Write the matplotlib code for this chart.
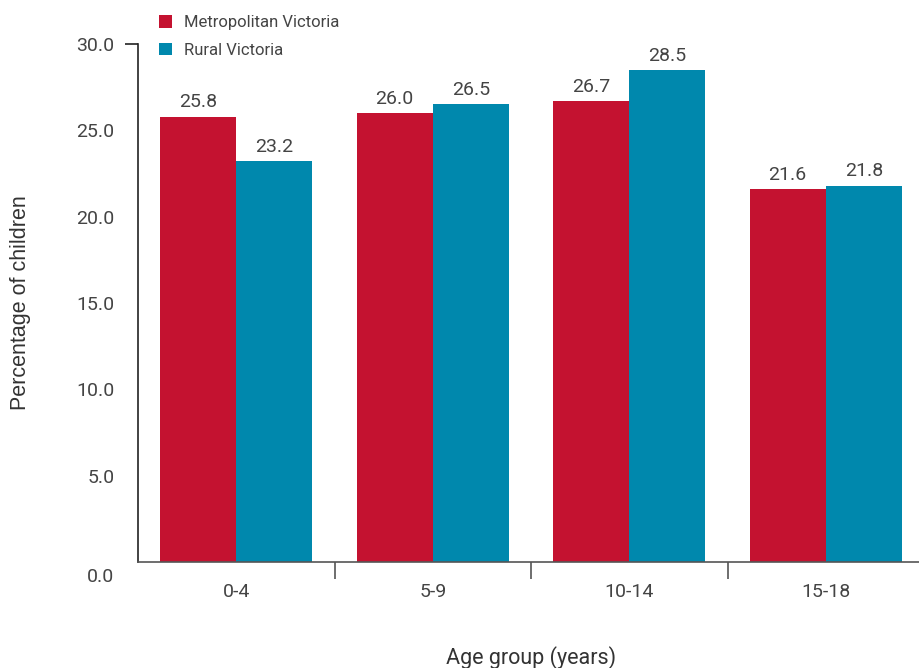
import matplotlib.pyplot as plt
import numpy as np
from matplotlib.patches import Patch
from matplotlib.transforms import ScaledTranslation

# Data
age_groups = ["0-4", "5-9", "10-14", "15-18"]
metro = [25.8, 26.0, 26.7, 21.6]
rural = [23.2, 26.5, 28.5, 21.8]
series_names = ["Metropolitan Victoria", "Rural Victoria"]

red = "#C41230"
blue = "#0088AD"
txt = "#444444"

plt.rcParams['font.family'] = ['Roboto', 'DejaVu Sans']

fig = plt.figure(figsize=(9.19, 6.68), dpi=100)
ax = fig.add_axes([138 / 919, 1 - 562 / 668, 786 / 919, (562 - 44) / 668])

x = np.arange(len(age_groups))
w = 0.387

b1 = ax.bar(x - w / 2, metro, w, color=red, linewidth=0)
b2 = ax.bar(x + w / 2, rural, w, color=blue, linewidth=0)

# Value labels
for bars, vals in ((b1, metro), (b2, rural)):
    for b, v in zip(bars, vals):
        ax.text(b.get_x() + b.get_width() / 2, v + 0.3, "%.1f" % v,
                ha='center', va='bottom', fontsize=14, color=txt)

ax.set_xlim(-0.5, len(age_groups) - 0.5)
ax.set_ylim(0, 30)

# Spines
for s in ('top', 'right'):
    ax.spines[s].set_visible(False)
ax.spines['left'].set_color('#222222')
ax.spines['bottom'].set_color('#555555')
ax.spines['left'].set_linewidth(1.2)
ax.spines['bottom'].set_linewidth(1.2)

# Y ticks: only the top one has a tick mark
yt = np.arange(0, 31, 5)
ax.set_yticks(yt)
ax.set_yticklabels(["%.1f" % v for v in yt], fontsize=14, color=txt)
ax.tick_params(axis='y', length=0, pad=17)
lab0 = ax.get_yticklabels()[0]
lab0.set_transform(lab0.get_transform() + ScaledTranslation(0, -0.13, fig.dpi_scale_trans))
ax.plot([-0.5 - 13 / 196.5, -0.5], [30, 30], color='#222222', lw=1.2,
        clip_on=False, solid_capstyle='butt')

# X ticks: category labels at centres, tick marks at boundaries
ax.set_xticks(x)
ax.set_xticklabels(age_groups, fontsize=14, color=txt)
ax.tick_params(axis='x', length=0, pad=15)
ax.set_xticks(x[:-1] + 0.5, minor=True)
ax.tick_params(axis='x', which='minor', length=12, width=1.2, color='#555555', direction='out')

ax.set_xlabel("Age group (years)", fontsize=15.5, color='#333333')
ax.set_ylabel("Percentage of children", fontsize=15.5, color='#333333',
              family=['Liberation Sans', 'DejaVu Sans'])
ax.xaxis.set_label_coords(0.5, -0.185)
ax.yaxis.set_label_coords(-0.150, 0.5)
ax.xaxis.label.set_va('center')
ax.yaxis.label.set_va('center')

# Legend
handles = [Patch(facecolor=red, edgecolor='none'), Patch(facecolor=blue, edgecolor='none')]
leg = fig.legend(handles, series_names, loc='upper left', bbox_to_anchor=(144 / 919, 1),
                 frameon=False, fontsize=12, handlelength=0.8, handleheight=0.8,
                 handletextpad=0.7, labelspacing=0.75, labelcolor=txt)

fig.savefig("out.png", dpi=100)
